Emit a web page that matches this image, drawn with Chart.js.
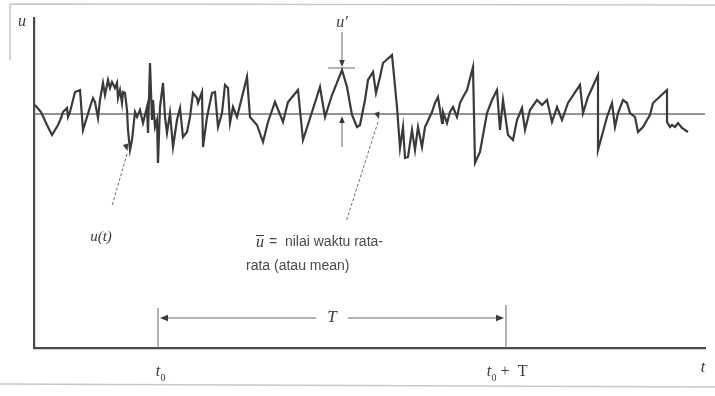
<!DOCTYPE html>
<html>
<head>
<meta charset="utf-8">
<script src="https://cdn.jsdelivr.net/npm/chart.js@4.4.1/dist/chart.umd.min.js"></script>
<style>
  html, body { margin: 0; padding: 0; background: #fff; }
  canvas { display: block; }
</style>
</head>
<body>
<canvas id="signal" width="715" height="396"></canvas>
<script>
// time axis (arbitrary units) and velocity u relative to mean
var t_values = [1, 7, 13, 18, 21, 24, 27, 29, 33, 34, 36, 41, 46, 49, 53, 56, 59, 61, 64, 66,
    69, 71, 74, 76, 78, 81, 83, 84, 86, 88, 89, 91, 93, 94, 96, 98, 101, 103, 106, 109,
    113, 114, 116, 118, 119, 121, 123, 124, 126, 129, 131, 133, 136, 139, 143, 146, 149, 153, 156, 159,
    163, 164, 168, 169, 173, 178, 181, 184, 188, 191, 194, 196, 199, 203, 206, 213, 216, 223, 229, 234,
    241, 249, 254, 264, 269, 278, 286, 291, 298, 308, 313, 318, 323, 326, 331, 334, 339, 342, 346, 349,
    358, 363, 366, 369, 371, 374, 378, 381, 384, 388, 391, 398, 401, 404, 408, 409, 413, 416, 419, 423,
    426, 429, 433, 439, 441, 446, 453, 458, 463, 466, 469, 474, 479, 483, 488, 491, 496, 503, 508, 513,
    518, 523, 528, 534, 546, 549, 554, 564, 564, 573, 578, 581, 584, 589, 593, 596, 601, 604, 609, 613,
    616, 619, 633, 633, 636, 638, 641, 644, 648, 654];
var u_values = [9, 2, -11, -21, -16, -11, -4, 2, 6, -3, 2, 22, 24, -16, -3, 7, 16, 12, -4, 14,
    31, 19, 34, 26, 32, 26, 31, 16, 24, 11, 22, 21, 4, -16, -36, -26, 2, -3, 4, -9,
    7, -19, 51, -6, 14, -13, -6, -49, 7, 31, -3, -19, 1, -33, -6, 6, -23, -18, -3, 21,
    16, 11, 22, -33, -3, 21, 22, -13, 1, 29, 26, -9, 7, -3, 9, 37, -3, -11, -28, -8,
    12, -8, 12, 24, -26, 2, 27, -3, 19, 44, 27, -1, -13, -11, 14, 34, 42, 21, 37, 51,
    59, 7, -34, -13, -44, -43, -16, -36, -13, -33, -13, 2, 11, 17, -9, 2, -9, 2, 7, -3,
    11, 17, 24, 47, -49, -38, 1, 14, 24, -16, 14, -21, -26, -6, 6, -16, 4, 14, 9, 14,
    -8, 7, -6, 11, 29, 1, 17, 39, -36, -3, 11, -13, 1, 14, 11, 1, -3, -18, -13, -6,
    -1, 11, 24, -8, -13, -11, -13, -9, -14, -18];

var u_mean = 0;
var t_start = 0;
var t_end = 671;
var u_min = -234;
var u_max = 96;

// averaging window
var t0 = 124;
var t0_plus_T = 472;
// fluctuation marker u'
var t_peak = 308;
var u_peak = 46;

var signal_points = [];
for (var i = 0; i < t_values.length; i++) {
    signal_points.push({x: t_values[i], y: u_values[i]});
}

var ink = "#3a3a3a";
var soft = "#6a6a6a";

function arrowHead(ctx, x, y, dx, dy, size){
    var len = Math.sqrt(dx * dx + dy * dy);
    var ux = dx / len, uy = dy / len;
    ctx.beginPath();
    ctx.moveTo(x, y);
    ctx.lineTo(x - ux * size - uy * size * 0.4, y - uy * size + ux * size * 0.4);
    ctx.lineTo(x - ux * size + uy * size * 0.4, y - uy * size - ux * size * 0.4);
    ctx.closePath();
    ctx.fill();
}

var annotations = {
    id: 'annotations',
    beforeDraw: function(chart){
        var ctx = chart.ctx;
        // scanned page edges
        ctx.save();
        ctx.strokeStyle = "#c8c8c8";
        ctx.lineWidth = 1.5;
        ctx.beginPath();
        ctx.moveTo(10, 4); ctx.lineTo(chart.width, 5);
        ctx.moveTo(10, 4); ctx.lineTo(10, 60);
        ctx.moveTo(0, chart.height - 12); ctx.lineTo(chart.width, chart.height - 9);
        ctx.stroke();
        ctx.restore();
    },
    afterDatasetsDraw: function(chart){
        var ctx = chart.ctx;
        var xs = chart.scales.x, ys = chart.scales.y;
        var X = function(v){ return xs.getPixelForValue(v); };
        var Y = function(v){ return ys.getPixelForValue(v); };
        var area = chart.chartArea;
        ctx.save();
        ctx.fillStyle = ink;
        ctx.strokeStyle = soft;

        // u' marker
        ctx.lineWidth = 1;
        ctx.beginPath();
        ctx.moveTo(X(t_peak), Y(u_peak + 36));
        ctx.lineTo(X(t_peak), Y(u_peak + 3));
        ctx.moveTo(X(t_peak - 14), Y(u_peak));
        ctx.lineTo(X(t_peak + 13), Y(u_peak));
        ctx.moveTo(X(t_peak), Y(u_mean - 33));
        ctx.lineTo(X(t_peak), Y(u_mean - 4));
        ctx.stroke();
        arrowHead(ctx, X(t_peak), Y(u_peak + 1), 0, 1, 7);
        arrowHead(ctx, X(t_peak), Y(u_mean - 2), 0, -1, 7);
        ctx.font = "italic 16px 'Liberation Serif'";
        ctx.textAlign = "center";
        ctx.textBaseline = "middle";
        ctx.fillText("u\u2032", X(t_peak), Y(u_peak + 45));

        // u(t) pointer
        ctx.setLineDash([3, 2]);
        ctx.lineWidth = 1;
        ctx.beginPath();
        ctx.moveTo(X(93), Y(-40));
        ctx.lineTo(X(78), Y(-92));
        ctx.moveTo(X(344), Y(-8));
        ctx.lineTo(X(312), Y(-108));
        ctx.stroke();
        ctx.setLineDash([]);
        arrowHead(ctx, X(93.5), Y(-37), 1.5, 5, 7);
        arrowHead(ctx, X(345), Y(-5), 1, 3.1, 7);
        ctx.font = "italic 15px 'Liberation Serif'";
        ctx.fillText("u(t)", X(67), Y(-123));

        // mean caption
        ctx.textAlign = "left";
        ctx.font = "italic 16px 'Liberation Serif'";
        ctx.fillText("u", X(222), Y(-129));
        ctx.fillRect(X(222), Y(-121), 8, 1);
        ctx.font = "14px 'Liberation Sans'";
        ctx.fillStyle = "#4a4a4a";
        ctx.fillText("=  nilai waktu rata-", X(235), Y(-128));
        ctx.fillText("rata (atau mean)", X(212), Y(-152));

        // averaging window T
        ctx.fillStyle = ink;
        ctx.strokeStyle = soft;
        ctx.lineWidth = 1;
        ctx.beginPath();
        ctx.moveTo(X(t0), area.bottom);
        ctx.lineTo(X(t0), Y(-194));
        ctx.moveTo(X(t0_plus_T), area.bottom);
        ctx.lineTo(X(t0_plus_T), Y(-191));
        var tMid = (t0 + t0_plus_T) / 2;
        ctx.moveTo(X(t0 + 5), Y(-204));
        ctx.lineTo(X(tMid - 16), Y(-204));
        ctx.moveTo(X(tMid + 16), Y(-204));
        ctx.lineTo(X(t0_plus_T - 5), Y(-204));
        ctx.stroke();
        arrowHead(ctx, X(t0 + 2), Y(-204), -1, 0, 8);
        arrowHead(ctx, X(t0_plus_T - 2), Y(-204), 1, 0, 8);
        ctx.textAlign = "center";
        ctx.font = "italic 17px 'Liberation Serif'";
        ctx.fillText("T", X(tMid), Y(-204));

        // axis labels
        ctx.font = "italic 16px 'Liberation Serif'";
        ctx.fillText("t", X(t0), area.bottom + 24);
        ctx.fillText("t", X(t0_plus_T) - 17, area.bottom + 24);
        ctx.fillText("t", X(t_end) - 2, area.bottom + 20);
        ctx.fillText("u", area.left - 12, area.top + 4);
        ctx.font = "10px 'Liberation Serif'";
        ctx.fillText("0", X(t0) + 5, area.bottom + 30);
        ctx.fillText("0", X(t0_plus_T) - 12, area.bottom + 30);
        ctx.font = "16px 'Liberation Serif'";
        ctx.fillText("+  T", X(t0_plus_T) + 8, area.bottom + 24);
        ctx.restore();
    }
};

var chart_ctx = document.getElementById("signal").getContext("2d");
var chart1 = new Chart(chart_ctx, {
    type: 'line',
    data: {
        datasets: [{
            data: signal_points,
            borderColor: ink,
            borderWidth: 2.2,
            pointRadius: 0,
            tension: 0,
            fill: false
        }, {
            data: [{x: t_start, y: u_mean}, {x: t_end, y: u_mean}],
            borderColor: "#707070",
            borderWidth: 1.6,
            pointRadius: 0,
            fill: false
        }]
    },
    options: {
        responsive: false,
        animation: false,
        layout: {
            padding: {left: 26, top: 18, right: 10, bottom: 40}
        },
        plugins: {
            legend: {display: false},
            tooltip: {enabled: false}
        },
        scales: {
            x: {
                type: 'linear',
                min: t_start,
                max: t_end,
                grid: {display: false},
                ticks: {display: false},
                border: {display: true, color: "#4a4a4a", width: 2.2}
            },
            y: {
                type: 'linear',
                min: u_min,
                max: u_max,
                grid: {display: false},
                ticks: {display: false},
                border: {display: true, color: "#4a4a4a", width: 2.2}
            }
        }
    },
    plugins: [annotations]
});
</script>
</body>
</html>
